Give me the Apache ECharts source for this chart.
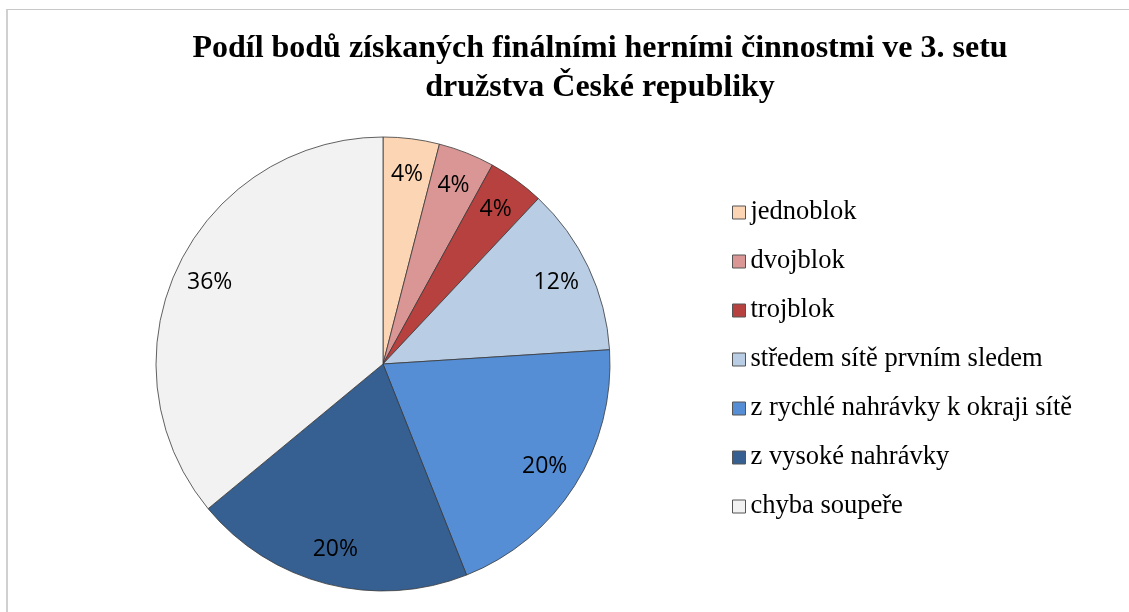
<!DOCTYPE html>
<html>
<head>
<meta charset="utf-8">
<script src="https://cdn.jsdelivr.net/npm/echarts@6/dist/echarts.min.js"></script>
<style>
html,body{margin:0;padding:0;background:#fff;}
#frame{position:absolute;left:6px;top:9px;width:1200px;height:700px;border-left:2px solid #d0d0d0;border-top:1px solid #c8c8c8;}
#chart{position:absolute;left:0;top:0;width:1129px;height:612px;}
</style>
</head>
<body>
<div id="frame"></div>
<div id="chart"></div>
<script>
const titleText = 'Podíl bodů získaných finálními herními činnostmi ve 3. setu\ndružstva České republiky';
const categories = ['jednoblok', 'dvojblok', 'trojblok', 'středem sítě prvním sledem', 'z rychlé nahrávky k okraji sítě', 'z vysoké nahrávky', 'chyba soupeře'];
const values = [4, 4, 4, 12, 20, 20, 36];
const colors = ['#FCD5B5', '#D99694', '#B7413E', '#B9CDE5', '#558ED5', '#366092', '#F2F2F2'];

const chart = echarts.init(document.getElementById('chart'), null, {renderer: 'canvas'});
const data = categories.map((c, i) => ({name: c, value: values[i], itemStyle: {color: colors[i]}}));
const labelData = categories.map((c, i) => ({name: c, value: values[i]}));

chart.setOption({
  animation: false,
  backgroundColor: 'transparent',
  title: {
    text: titleText,
    left: 595,
    textAlign: 'center',
    top: 24,
    textStyle: {fontFamily: 'Liberation Serif', fontWeight: 'bold', fontSize: 32, lineHeight: 39, color: '#000'}
  },
  legend: {
    orient: 'vertical',
    left: 732,
    top: 199,
    padding: 0,
    itemWidth: 13,
    itemHeight: 13,
    itemGap: 22,
    icon: 'rect',
    data: categories,
    textStyle: {fontFamily: 'Liberation Serif', fontSize: 26.5, lineHeight: 26, color: '#000', padding: [0, 0, 0, 0]},
    itemStyle: {borderColor: '#555', borderWidth: 1}
  },
  series: [{
    type: 'pie',
    center: [383, 364],
    radius: [0, 227],
    startAngle: 90,
    clockwise: true,
    silent: true,
    label: {show: false},
    labelLine: {show: false},
    itemStyle: {borderColor: '#3a3a3a', borderWidth: 0.8},
    data: data
  }, {
    type: 'pie',
    center: [383, 364],
    radius: [150, 227],
    startAngle: 90,
    clockwise: true,
    silent: true,
    legendHoverLink: false,
    itemStyle: {color: 'rgba(0,0,0,0)', borderWidth: 0},
    label: {
      show: true,
      position: 'inner',
      formatter: p => p.value + '%',
      fontFamily: 'Open Sans',
      fontSize: 23,
      color: '#000'
    },
    labelLine: {show: false},
    data: labelData
  }]
});
</script>
</body>
</html>
